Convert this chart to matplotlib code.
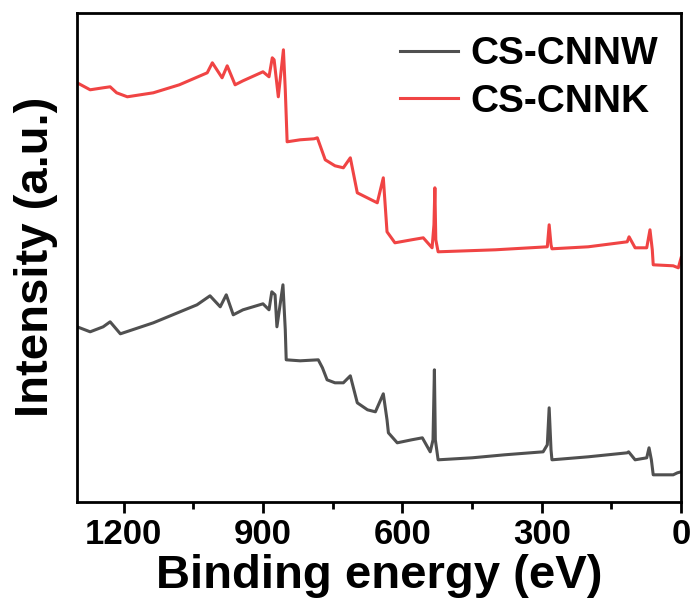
import matplotlib
matplotlib.use("Agg")
import matplotlib.pyplot as plt
from matplotlib.ticker import MultipleLocator

plt.rcParams["font.family"] = ["Liberation Sans", "DejaVu Sans"]
plt.rcParams["font.weight"] = "bold"

# XPS survey spectra (intensity in arbitrary units)
energy_cnnw = [1300, 1272, 1244, 1229, 1207, 1136, 1042, 1014, 992, 979, 964, 943,
               900, 887, 881, 874, 870, 857, 852, 850, 820, 781, 772, 762, 745,
               727, 712, 697, 675, 658, 641, 633, 630, 611, 580, 557, 540, 534,
               531, 529, 523, 450, 380, 297, 288, 284, 280, 278, 200, 116, 113,
               99, 74, 69, 64, 60, 17, 8, 0]
intensity_cnnw = [175, 170, 175, 180, 168, 179, 197, 206, 195, 207, 187, 192,
                  198, 192, 210, 207, 175, 217, 172, 142, 141, 142, 134, 122, 119,
                  119, 126, 99, 92, 90, 108, 82, 69, 59, 62, 64, 50, 62,
                  132, 62, 42, 44, 47, 50, 57, 94, 52, 42, 45, 49, 50,
                  42, 44, 54, 42, 27, 27, 29, 30]

energy_cnnk = [1300, 1272, 1244, 1229, 1215, 1192, 1136, 1080, 1020, 1009, 988, 977,
               960, 943, 900, 887, 880, 876, 867, 856, 852, 848, 820, 790, 783,
               766, 745, 727, 712, 697, 654, 641, 633, 616, 580, 555, 536, 532,
               530, 528, 523, 400, 288, 284, 280, 278, 200, 116, 112, 99, 74,
               67, 62, 60, 17, 6, 0]
intensity_cnnk = [419, 412, 414, 415, 409, 405, 409, 417, 429, 439, 424, 436,
                  417, 421, 430, 425, 444, 442, 405, 452, 412, 360, 362, 363, 364,
                  342, 336, 334, 344, 309, 299, 324, 270, 259, 262, 264, 254, 277,
                  314, 262, 250, 252, 255, 277, 257, 253, 255, 260, 265, 254, 254,
                  272, 252, 237, 236, 234, 244]

labels = ["CS-CNNW", "CS-CNNK"]
colors = ["#505050", "#F04444"]

fig = plt.figure(figsize=(6.95, 6.09), dpi=100)
ax = fig.add_axes([0.111, 0.176, 0.869, 0.803])

ax.plot(energy_cnnw, intensity_cnnw, color=colors[0], lw=2.2, label=labels[0])
ax.plot(energy_cnnk, intensity_cnnk, color=colors[1], lw=2.2, label=labels[1])

ax.set_xlim(1300, 0)
ax.set_ylim(0, 489)
ax.xaxis.set_major_locator(MultipleLocator(300))
ax.xaxis.set_minor_locator(MultipleLocator(150))
ax.set_yticks([])
ax.tick_params(axis="x", which="major", length=8, width=2, labelsize=25, pad=4)
ax.tick_params(axis="x", which="minor", length=5, width=2)
for sp in ax.spines.values():
    sp.set_linewidth(2)

ax.set_xlabel("Binding energy (eV)", fontsize=34, fontweight="bold", labelpad=2)
ax.set_ylabel("Intensity (a.u.)", fontsize=34, fontweight="bold", labelpad=14)

ax.legend(loc="upper right", frameon=False, fontsize=28, handlelength=1.5,
          handletextpad=0.3, labelspacing=0.3, borderaxespad=0.2,
          prop={"weight": "bold", "size": 28})

fig.savefig("out.png", dpi=100)
